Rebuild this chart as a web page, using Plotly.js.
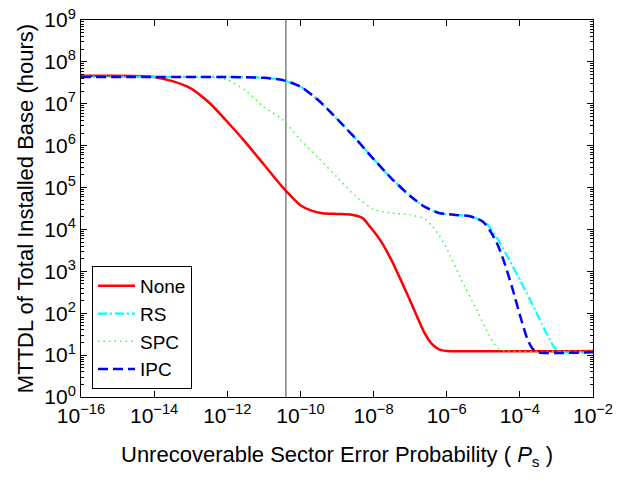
<!DOCTYPE html>
<html>
<head>
<meta charset="utf-8">
<script src="https://cdn.plot.ly/plotly-3.0.1.min.js"></script>
<style>html,body{margin:0;padding:0;background:#fff;}#chart{width:630px;height:484px;}</style>
</head>
<body>
<div id="chart"></div>
<script>
// Sector error probability values and MTTDL (hours)
const noneX = [1e-16, 1e-15, 3.16e-15, 1e-14, 3.16e-14, 1e-13, 3.16e-13, 1e-12, 3.16e-12, 1e-11, 3.16e-11, 1e-10, 2.0e-10, 3.98e-10, 1e-9, 2.51e-9, 5.01e-9, 7.94e-9, 1.58e-8, 3.16e-8, 1e-7, 2.51e-7, 3.98e-7, 6.31e-7, 1e-6, 1e-2];
const noneY = [4.68e7, 4.68e7, 4.62e7, 4.37e7, 3.47e7, 2.34e7, 1.07e7, 3.72e6, 1.20e6, 3.55e5, 1.05e5, 3.80e4, 2.82e4, 2.45e4, 2.34e4, 2.24e4, 1.86e4, 1.17e4, 5.25e3, 1.78e3, 200, 33.1, 18.2, 13.5, 12.6, 12.6];

const rsX = [1e-16, 1e-14, 1e-12, 1e-11, 3.16e-11, 1e-10, 3.16e-10, 1e-9, 3.16e-9, 1e-8, 3.16e-8, 1e-7, 2.51e-7, 6.31e-7, 1.58e-6, 3.98e-6, 6.31e-6, 1e-5, 1.26e-5, 1.58e-5, 2.51e-5, 3.98e-5, 6.31e-5, 1e-4, 1.58e-4, 2.51e-4, 3.98e-4, 6.31e-4, 8.91e-4, 1.26e-3, 1e-2];
const rsY = [4.37e7, 4.37e7, 4.37e7, 4.17e7, 3.72e7, 2.57e7, 1.20e7, 4.37e6, 1.51e6, 4.79e5, 1.62e5, 6.31e4, 3.47e4, 2.45e4, 2.24e4, 2.09e4, 1.86e4, 1.51e4, 1.38e4, 1.05e4, 5.75e3, 2.82e3, 1.35e3, 631, 288, 129, 56.2, 25.1, 14.8, 12.0, 11.7];

const spcX = [1e-16, 1e-13, 3.16e-13, 1e-12, 3.16e-12, 1e-11, 3.16e-11, 1e-10, 3.16e-10, 1e-9, 3.16e-9, 1e-8, 3.16e-8, 1e-7, 2.51e-7, 3.98e-7, 6.31e-7, 1e-6, 2.51e-6, 6.31e-6, 1.58e-5, 2.51e-5, 3.98e-5, 1e-2];
const spcY = [4.37e7, 4.37e7, 4.27e7, 3.72e7, 2.09e7, 8.32e6, 4.27e6, 1.38e6, 5.01e5, 1.78e5, 6.31e4, 3.02e4, 2.45e4, 2.24e4, 1.78e4, 1.20e4, 7.08e3, 3.55e3, 631, 129, 25.7, 14.8, 12.6, 12.6];

const ipcX = [1e-16, 1e-14, 1e-12, 1e-11, 3.16e-11, 1e-10, 3.16e-10, 1e-9, 3.16e-9, 1e-8, 3.16e-8, 1e-7, 2.51e-7, 6.31e-7, 1.58e-6, 3.98e-6, 6.31e-6, 1e-5, 1.58e-5, 2.51e-5, 3.98e-5, 6.31e-5, 1e-4, 1.58e-4, 2.24e-4, 3.16e-4, 1e-2];
const ipcY = [4.37e7, 4.37e7, 4.37e7, 4.17e7, 3.72e7, 2.57e7, 1.20e7, 4.37e6, 1.51e6, 4.79e5, 1.62e5, 6.31e4, 3.47e4, 2.45e4, 2.24e4, 2.09e4, 1.86e4, 1.51e4, 8.91e3, 4.17e3, 1.41e3, 380, 91.2, 25.1, 14.1, 11.7, 11.7];

// reference vertical line
const refLineX = [4e-11, 4e-11];
const refLineY = [1, 1e9];

const seriesNames = ['None', 'RS', 'SPC', 'IPC'];

// tick values and labels
const xTickVals = [1e-16, 1e-14, 1e-12, 1e-10, 1e-8, 1e-6, 1e-4, 1e-2];
const xTickLabels = ['10<sup>\u221216</sup>', '10<sup>\u221214</sup>', '10<sup>\u221212</sup>', '10<sup>\u221210</sup>', '10<sup>\u22128</sup>', '10<sup>\u22126</sup>', '10<sup>\u22124</sup>', '10<sup>\u22122</sup>'];
const yTickVals = [1, 1e1, 1e2, 1e3, 1e4, 1e5, 1e6, 1e7, 1e8, 1e9];
const yTickLabels = ['10<sup>0</sup>', '10<sup>1</sup>', '10<sup>2</sup>', '10<sup>3</sup>', '10<sup>4</sup>', '10<sup>5</sup>', '10<sup>6</sup>', '10<sup>7</sup>', '10<sup>8</sup>', '10<sup>9</sup>'];

const FONT = 'Liberation Sans, Arial, Helvetica, sans-serif';

const traces = [
  {x: refLineX, y: refLineY, mode: 'lines', line: {color: '#808080', width: 1.5}, showlegend: false, hoverinfo: 'skip'},
  {x: noneX, y: noneY, name: seriesNames[0], mode: 'lines', line: {color: '#ff0000', width: 2.5, shape: 'spline', smoothing: 0.6}},
  {x: rsX, y: rsY, name: seriesNames[1], mode: 'lines', line: {color: '#00ffff', width: 2.2, dash: '9px,3px,2px,3px', shape: 'spline', smoothing: 0.6}},
  {x: spcX, y: spcY, name: seriesNames[2], mode: 'lines', line: {color: '#33ff33', width: 1.5, dash: '1.5px,4px', shape: 'spline', smoothing: 0.6}},
  {x: ipcX, y: ipcY, name: seriesNames[3], mode: 'lines', line: {color: '#0000ff', width: 2.5, dash: '10px,5px', shape: 'spline', smoothing: 0.6}}
];

const layout = {
  width: 630, height: 484,
  margin: {l: 81, r: 37, t: 20, b: 87},
  paper_bgcolor: '#ffffff', plot_bgcolor: '#ffffff',
  font: {family: FONT, color: '#000000', size: 21},
  showlegend: true,
  xaxis: {
    type: 'log', range: [-16, -2], tickmode: 'array', tickvals: xTickVals, ticktext: xTickLabels,
    showgrid: false, zeroline: false,
    showline: true, linecolor: '#000', linewidth: 1, mirror: 'allticks',
    ticks: 'inside', ticklen: 6, tickcolor: '#000', tickwidth: 1,
    tickfont: {family: FONT, size: 21, color: '#000'},
    title: {text: 'Unrecoverable Sector Error Probability ( <i>P</i><sub>s</sub> )', font: {family: FONT, size: 22, color: '#000'}, standoff: 20}
  },
  yaxis: {
    type: 'log', range: [0, 9], tickmode: 'array', tickvals: yTickVals, ticktext: yTickLabels,
    showgrid: false, zeroline: false,
    showline: true, linecolor: '#000', linewidth: 1, mirror: 'allticks',
    ticks: 'inside', ticklen: 6, tickcolor: '#000', tickwidth: 1,
    minor: {ticks: 'inside', ticklen: 3, tickcolor: '#000', showgrid: false, dtick: 'D1'},
    tickfont: {family: FONT, size: 21, color: '#000'},
    title: {text: 'MTTDL of Total Installed Base (hours)', font: {family: FONT, size: 22, color: '#000'}, standoff: 4}
  },
  legend: {
    x: 0.0215, y: 0.0212, xanchor: 'left', yanchor: 'bottom',
    bgcolor: '#ffffff', bordercolor: '#000', borderwidth: 1,
    font: {family: FONT, size: 19, color: '#000'},
    itemwidth: 37, tracegroupgap: 0
  }
};

Plotly.newPlot('chart', traces, layout, {staticPlot: true, displayModeBar: false});
</script>
</body>
</html>
